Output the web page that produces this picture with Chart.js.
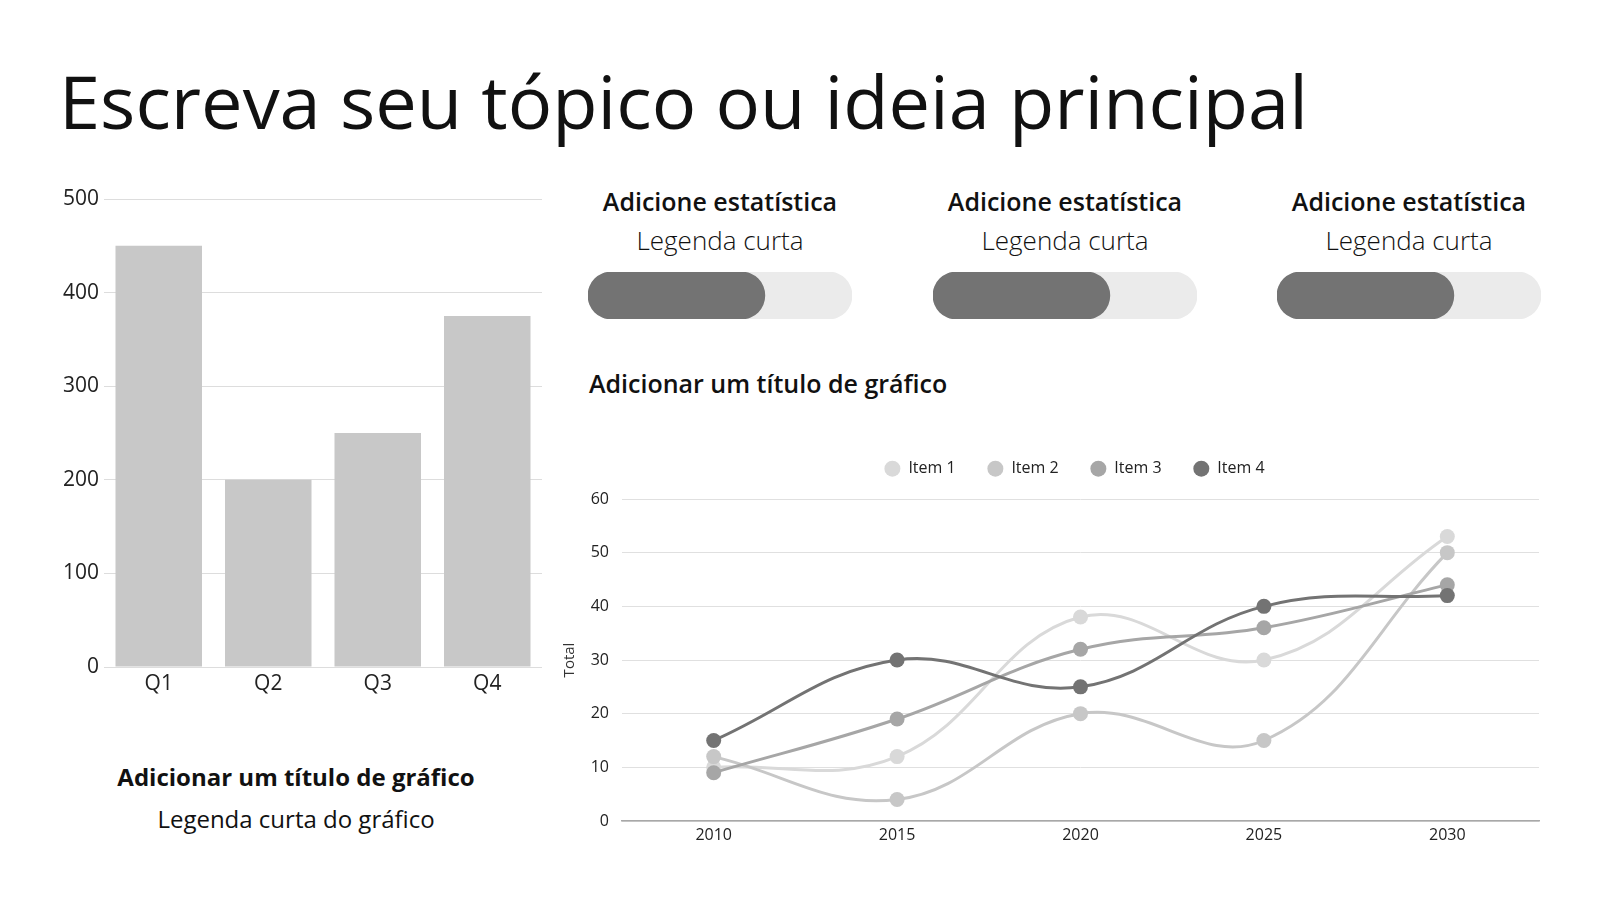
<!DOCTYPE html>
<html lang="pt">
<head>
<meta charset="utf-8">
<script src="https://cdn.jsdelivr.net/npm/chart.js@4"></script>
<style>
  html, body { margin: 0; padding: 0; background: #fff; }
  body { width: 1600px; height: 900px; position: relative; overflow: hidden; font-family: "Open Sans", sans-serif; color: #111; }
  .t { position: absolute; line-height: 1; white-space: nowrap; }
  .c { transform: translateX(-50%); }
  canvas { position: absolute; }
</style>
</head>
<body>
<div class="t" style="left:59px; top:64px; font-size:74px;">Escreva seu tópico ou ideia principal</div>

<canvas id="barChart" width="540" height="537" style="left:20px; top:170px;"></canvas>
<div class="t c" style="left:296px; top:765px; font-size:24px; font-weight:700;">Adicionar um título de gráfico</div>
<div class="t c" style="left:296px; top:807px; font-size:24px;">Legenda curta do gráfico</div>

<div class="t c" style="left:720px; top:189px; font-size:25px; font-weight:600;">Adicione estatística</div>
<div class="t c" style="left:720px; top:227px; font-size:26px; font-weight:300;">Legenda curta</div>
<div class="t c" style="left:1065px; top:189px; font-size:25px; font-weight:600;">Adicione estatística</div>
<div class="t c" style="left:1065px; top:227px; font-size:26px; font-weight:300;">Legenda curta</div>
<div class="t c" style="left:1409px; top:189px; font-size:25px; font-weight:600;">Adicione estatística</div>
<div class="t c" style="left:1409px; top:227px; font-size:26px; font-weight:300;">Legenda curta</div>

<canvas id="stat1" width="264" height="47" style="left:588px; top:272px;"></canvas>
<canvas id="stat2" width="264" height="47" style="left:933px; top:272px;"></canvas>
<canvas id="stat3" width="264" height="47" style="left:1277px; top:272px;"></canvas>

<div class="t" style="left:589px; top:371px; font-size:25px; font-weight:600;">Adicionar um título de gráfico</div>
<canvas id="lineChart" width="1000" height="432" style="left:557px; top:429px;"></canvas>

<script>
// dados do gráfico de barras
const quarters = ['Q1', 'Q2', 'Q3', 'Q4'];
const quarterValues = [450, 200, 250, 375];

// barras de progresso (percentual)
const statValues = [67, 67, 67];

// dados do gráfico de linhas
const years = ['2010', '2015', '2020', '2025', '2030'];
const item1 = [10, 12, 38, 30, 53];
const item2 = [12, 4, 20, 15, 50];
const item3 = [9, 19, 32, 36, 44];
const item4 = [15, 30, 25, 40, 42];
const itemNames = ['Item 1', 'Item 2', 'Item 3', 'Item 4'];
const itemColors = ['#d9d9d9', '#c7c7c7', '#a6a6a6', '#737373'];

Chart.defaults.font.family = '"Open Sans", sans-serif';
Chart.defaults.color = '#222';
Chart.defaults.animation = false;

new Chart(document.getElementById('barChart'), {
    type: 'bar',
    data: {
        labels: quarters,
        datasets: [{
            data: quarterValues,
            backgroundColor: '#c8c8c8',
            categoryPercentage: 1,
            barPercentage: 0.79
        }]
    },
    options: {
        responsive: false,
        layout: { padding: { top: 29, right: 18 } },
        plugins: { legend: { display: false }, tooltip: { enabled: false } },
        scales: {
            x: {
                grid: { display: false, drawTicks: false },
                border: { display: false },
                ticks: { font: { size: 21 }, padding: 4, color: '#222' },
                afterFit: (s) => { s.height = 40; }
            },
            y: {
                min: 0, max: 500,
                ticks: { stepSize: 100, font: { size: 21 }, padding: 5, color: '#222' },
                grid: { color: '#dddddd', drawTicks: false },
                border: { display: false },
                afterFit: (s) => { s.width = 84; }
            }
        }
    }
});

// barras de progresso
statValues.forEach((v, i) => {
    new Chart(document.getElementById('stat' + (i + 1)), {
        type: 'bar',
        data: {
            labels: [''],
            datasets: [
                { data: [v], backgroundColor: '#737373' },
                { data: [100], backgroundColor: '#ebebeb' }
            ]
        },
        options: {
            indexAxis: 'y',
            responsive: false,
            datasets: { bar: { grouped: false, categoryPercentage: 1, barPercentage: 1, borderRadius: 999, borderSkipped: false } },
            plugins: { legend: { display: false }, tooltip: { enabled: false } },
            scales: {
                x: { display: false, min: 0, max: 100 },
                y: { display: false }
            }
        }
    });
});

const lineSets = [item1, item2, item3, item4].map((d, i) => ({
    label: itemNames[i],
    data: d,
    borderColor: itemColors[i],
    backgroundColor: itemColors[i],
    borderWidth: 3,
    pointRadius: 7.5,
    pointBorderWidth: 0,
    tension: 0.4,
    order: 4 - i
}));

new Chart(document.getElementById('lineChart'), {
    type: 'line',
    data: { labels: years, datasets: lineSets },
    options: {
        responsive: false,
        layout: { padding: { right: 18 } },
        plugins: {
            tooltip: { enabled: false },
            legend: {
                fullSize: false,
                labels: {
                    usePointStyle: true,
                    pointStyle: 'circle',
                    boxHeight: 11.3,
                    padding: 31.7,
                    font: { size: 16 },
                    color: '#222',
                    sort: (a, b) => a.datasetIndex - b.datasetIndex
                }
            }
        },
        scales: {
            x: {
                offset: true,
                grid: { display: false, drawTicks: false },
                border: { display: true, color: '#a8a8a8', width: 1.5 },
                ticks: { font: { size: 16 }, padding: 5, color: '#222' },
                afterFit: (s) => { s.height = 40; }
            },
            y: {
                min: 0, max: 60,
                ticks: { stepSize: 10, font: { size: 16 }, padding: 13, color: '#222' },
                grid: { color: '#e0e0e0', drawTicks: false },
                border: { display: false },
                title: { display: true, text: 'Total', font: { size: 15 }, color: '#333', padding: { top: 4, bottom: 4 } },
                afterFit: (s) => { s.width = 65; }
            }
        }
    },
    plugins: [{
        id: 'legendBox',
        beforeInit(chart) {
            const fit = chart.legend.fit;
            chart.legend.fit = function () {
                fit.call(this);
                this.height = 70;
            };
        },
        afterLayout(chart) {
            // a legenda fica um pouco à esquerda do centro da área do gráfico
            chart.legend.left -= 6;
            chart.legend.right -= 6;
        }
    }]
});
</script>
</body>
</html>
